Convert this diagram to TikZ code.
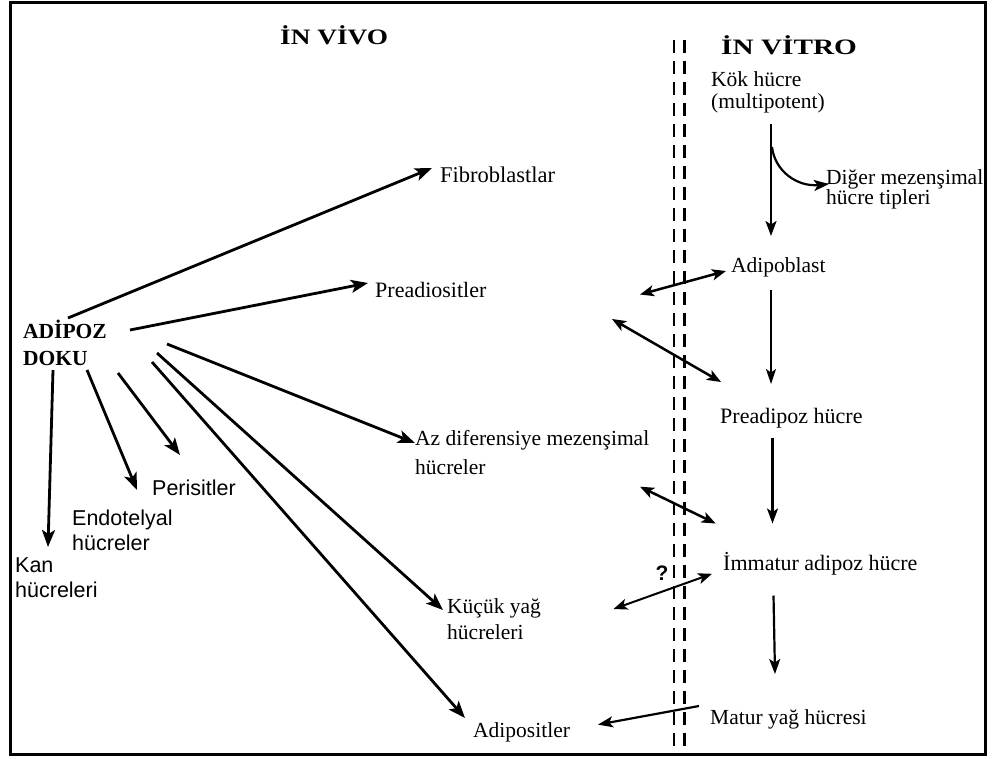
\documentclass[tikz,border=0pt]{standalone}
\usepackage{fontspec}
\usepackage{graphicx}
\setmainfont{Liberation Serif}
\setsansfont{Liberation Sans}
\usetikzlibrary{arrows.meta}
\tikzset{
  lbl/.style={anchor=base west, inner sep=0pt, align=left, font=\fontsize{21.5}{24}\selectfont},
  slbl/.style={anchor=base west, inner sep=0pt, align=left, font=\sffamily\fontsize{21.5}{25}\selectfont},
  head/.style={anchor=base west, inner sep=0pt, font=\bfseries\fontsize{22}{26}\selectfont},
  arr/.style={line width=2.8pt, -{Stealth[length=17pt,width=13pt,inset=4pt]}},
  varr/.style={line width=2.2pt, -{Stealth[length=15pt,width=11pt,inset=3.5pt]}},
  tarr/.style={line width=1.2pt, -{Stealth[length=15pt,width=10pt,inset=3.5pt]}},
  darr/.style={line width=2.5pt, {Stealth[length=14pt,width=11pt,inset=3.5pt]}-{Stealth[length=14pt,width=11pt,inset=3.5pt]}},
}
\begin{document}
\begin{tikzpicture}[x=1pt,y=-1pt]
\useasboundingbox (0,0) rectangle (992,758);
\draw[line width=3pt] (10.5,2.5) rectangle (985.5,754.5);
% separator
\draw[line width=2pt, dash pattern=on 13pt off 8pt] (673.5,40) -- (673.5,754);
\draw[line width=3pt, dash pattern=on 13pt off 8pt] (684.5,40) -- (684.5,754);
% headings
\node[head] (invivo) at (280,44) {\scalebox{1.24}[1]{İN VİVO}};
\node[head] (invitro) at (721,54) {\scalebox{1.33}[1]{İN VİTRO}};
% in vitro column
\node[lbl, font=\fontsize{21.5}{22}\selectfont] (kok) at (711,108.5) {Kök hücre\\(multipotent)};
\node[lbl, font=\fontsize{21.5}{20}\selectfont] (diger) at (826,204) {Diğer mezenşimal\\hücre tipleri};
\node[lbl] (adipoblast) at (731,272) {Adipoblast};
\node[lbl, font=\fontsize{22}{24}\selectfont] (preadipoz) at (720,423.5) {Preadipoz hücre};
\node[lbl, font=\fontsize{22}{24}\selectfont] (immatur) at (723,570) {İmmatur adipoz hücre};
\node[lbl] (matur) at (710,724) {Matur yağ hücresi};
\node[anchor=base, inner sep=0pt, font=\sffamily\bfseries\fontsize{21}{24}\selectfont] (q) at (662,580) {?};
% in vivo
\node[anchor=base west, inner sep=0pt, align=left, font=\bfseries\fontsize{21.5}{27}\selectfont] (adipoz) at (23,365) {ADİPOZ\\DOKU};
\node[lbl, font=\fontsize{22.5}{24}\selectfont] (fib) at (440,182.5) {Fibroblastlar};
\node[lbl, font=\fontsize{22}{24}\selectfont] (preadiositler) at (375,297) {Preadiositler};
\node[lbl, font=\fontsize{21.5}{29}\selectfont] (az) at (415,474) {Az diferensiye mezenşimal\\hücreler};
\node[lbl, font=\fontsize{21.5}{26}\selectfont] (kucuk) at (447,639) {Küçük yağ\\hücreleri};
\node[lbl] (adipositler) at (473,737) {Adipositler};
\node[slbl] (peri) at (152,495) {Perisitler};
\node[slbl] (endo) at (72,550) {Endotelyal\\hücreler};
\node[slbl] (kan) at (15,597) {Kan\\hücreleri};
% connector end points
\coordinate (s1) at (68,318);   \coordinate (t1) at (432,168);
\coordinate (s2) at (130,330);  \coordinate (t2) at (368,283);
\coordinate (s3) at (167,344);  \coordinate (t3) at (415,443);
\coordinate (s4) at (157,353);  \coordinate (t4) at (443,610);
\coordinate (s5) at (152,362);  \coordinate (t5) at (465,718);
\coordinate (s6) at (118,373);  \coordinate (t6) at (180,455);
\coordinate (s7) at (87,370);   \coordinate (t7) at (137,490);
\coordinate (s8) at (53,370);   \coordinate (t8) at (48,547);
\coordinate (k1) at (771,124);  \coordinate (k2) at (771,236);
\coordinate (kc) at (772,147);  \coordinate (dt) at (829,184);
\coordinate (ab1) at (771,290); \coordinate (ab2) at (771,384);
\coordinate (pa1) at (772.5,437.5); \coordinate (pa2) at (772.5,523.5);
\coordinate (im1) at (773.5,595.5); \coordinate (im2) at (775,674);
\coordinate (u1) at (640,294.5);   \coordinate (u2) at (726,271);
\coordinate (v1) at (612,319);     \coordinate (v2) at (721,382);
\coordinate (w1) at (640,486.7);   \coordinate (w2) at (715.7,523.5);
\coordinate (z1) at (613.5,609);   \coordinate (z2) at (712,573.8);
\coordinate (m1) at (699,706);     \coordinate (m2) at (598,724.6);
% in vivo arrows
\draw[arr] (s1) -- (t1);
\draw[arr] (s2) -- (t2);
\draw[arr] (s3) -- (t3);
\draw[arr] (s4) -- (t4);
\draw[arr] (s5) -- (t5);
\draw[arr] (s6) -- (t6);
\draw[arr] (s7) -- (t7);
\draw[arr] (s8) -- (t8);
% in vitro arrows
\draw[varr] (k1) -- (k2);
\draw[varr] (kc) .. controls (775,172) and (798,187) .. (dt);
\draw[tarr] (ab1) -- (ab2);
\draw[varr] (pa1) -- (pa2);
\draw[varr] (im1) -- (im2);
\draw[darr] (u1) -- (u2);
\draw[darr] (v1) -- (v2);
\draw[darr] (w1) -- (w2);
\draw[darr, line width=2pt] (z1) -- (z2);
\draw[varr] (m1) -- (m2);
\end{tikzpicture}
\end{document}
